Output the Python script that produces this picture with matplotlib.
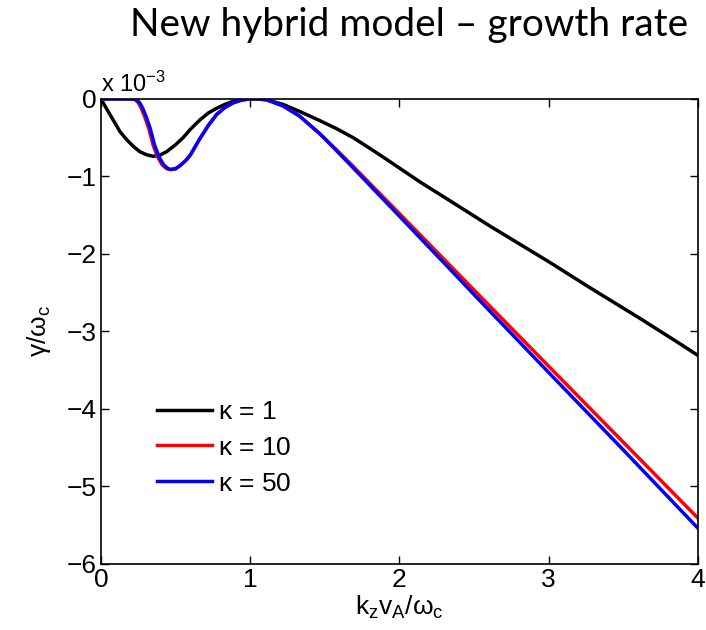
import numpy as np
import matplotlib
matplotlib.use('Agg')
import matplotlib.pyplot as plt

plt.rc('font', family='Liberation Sans')
plt.rc('mathtext', fontset='custom', rm='Liberation Sans', it='Liberation Sans', bf='Liberation Sans:bold')

# growth rate curves, values in units of 1e-3
x_k1 = [0, 0.03, 0.06, 0.1, 0.127, 0.17, 0.216, 0.26, 0.306, 0.35, 0.4, 0.44, 0.5, 0.55, 0.6,
        0.663, 0.72, 0.775, 0.83, 0.886, 0.94, 1.0, 1.05, 1.11, 1.22, 1.33, 1.467, 1.58, 1.69,
        1.8, 1.914, 2.137, 2.36, 2.606, 3.0, 3.28, 3.61, 3.88, 4.0]
y_k1 = [0, -0.1, -0.2, -0.33, -0.42, -0.52, -0.61, -0.68, -0.72, -0.74, -0.72, -0.68, -0.59,
        -0.5, -0.39, -0.27, -0.18, -0.12, -0.07, -0.03, -0.01, 0, 0, -0.01, -0.07, -0.16, -0.28,
        -0.385, -0.5, -0.635, -0.78, -1.07, -1.34, -1.64, -2.1, -2.44, -2.83, -3.16, -3.31]

x_k10 = [0, 0.2, 0.23, 0.25, 0.27, 0.295, 0.32, 0.35, 0.38, 0.41, 0.44, 0.465, 0.5, 0.53, 0.57,
         0.6, 0.66, 0.72, 0.775, 0.83, 0.886, 0.95, 1.0, 1.05, 1.11, 1.22, 1.33, 1.467, 1.58,
         1.69, 1.914, 2.137, 2.36, 2.517, 3.0, 3.5, 4.0]
y_k10 = [0, 0, -0.01, -0.05, -0.12, -0.24, -0.38, -0.6, -0.75, -0.85, -0.9, -0.91, -0.9, -0.86,
         -0.79, -0.72, -0.52, -0.34, -0.2, -0.11, -0.05, -0.01, 0, 0, -0.01, -0.09, -0.22, -0.45,
         -0.66, -0.87, -1.31, -1.75, -2.19, -2.5, -3.45, -4.43, -5.41]

x_k50 = [0, 0.21, 0.24, 0.26, 0.28, 0.305, 0.33, 0.36, 0.39, 0.42, 0.45, 0.47, 0.5, 0.53, 0.57,
         0.6, 0.66, 0.72, 0.775, 0.83, 0.886, 0.95, 1.0, 1.05, 1.11, 1.22, 1.33, 1.467, 1.58,
         1.69, 1.914, 2.137, 2.36, 2.517, 3.0, 3.5, 4.0]
y_k50 = [0, 0, -0.01, -0.05, -0.12, -0.24, -0.38, -0.6, -0.75, -0.85, -0.9, -0.91, -0.9, -0.86,
         -0.79, -0.72, -0.52, -0.34, -0.2, -0.11, -0.05, -0.01, 0, 0, -0.01, -0.09, -0.22, -0.45,
         -0.67, -0.89, -1.34, -1.79, -2.24, -2.56, -3.53, -4.53, -5.54]

labels = [r'$\kappa$ = 1', r'$\kappa$ = 10', r'$\kappa$ = 50']
colors = ['k', 'r', 'b']

fig = plt.figure(figsize=(7.06, 6.3), dpi=100)
ax = fig.add_axes([0.143, 0.1048, 0.8457, 0.7381])

for xs, ys, c, lab in zip([x_k1, x_k10, x_k50], [y_k1, y_k10, y_k50], colors, labels):
    ax.plot(xs, ys, color=c, lw=2.5, label=lab)

ax.set_xlim(0, 4)
ax.set_ylim(-6, 0)
ax.set_xticks([0, 1, 2, 3, 4])
ax.set_yticks([0, -1, -2, -3, -4, -5, -6])
ax.set_yticklabels(['0', '\u22121', '\u22122', '\u22123', '\u22124', '\u22125', '\u22126'])
ax.tick_params(direction='in', top=True, right=True, length=6, width=1, labelsize=19, pad=3)
for s in ax.spines.values():
    s.set_linewidth(1.2)

ax.set_xlabel(r'k$_\mathregular{z}$v$_\mathregular{A}$/$\omega_\mathregular{c}$', fontsize=19, labelpad=1)
ax.set_ylabel(r'$\gamma$/$\omega_\mathregular{c}$', fontsize=19, labelpad=10)
ax.text(0.0, 1.015, r'x 10$^{-3}$', transform=ax.transAxes, fontsize=17, ha='left', va='baseline')

leg = ax.legend(loc='upper left', bbox_to_anchor=(0.094, 0.353), frameon=False, fontsize=19,
                handlelength=2.1, handletextpad=0.2, labelspacing=0.45, borderpad=0, borderaxespad=0)

fig.text(0.975, 0.943, 'New hybrid model \u2013 growth rate', fontsize=28, family='Lato',
         ha='right', va='baseline')

plt.savefig('out.png', dpi=100)
